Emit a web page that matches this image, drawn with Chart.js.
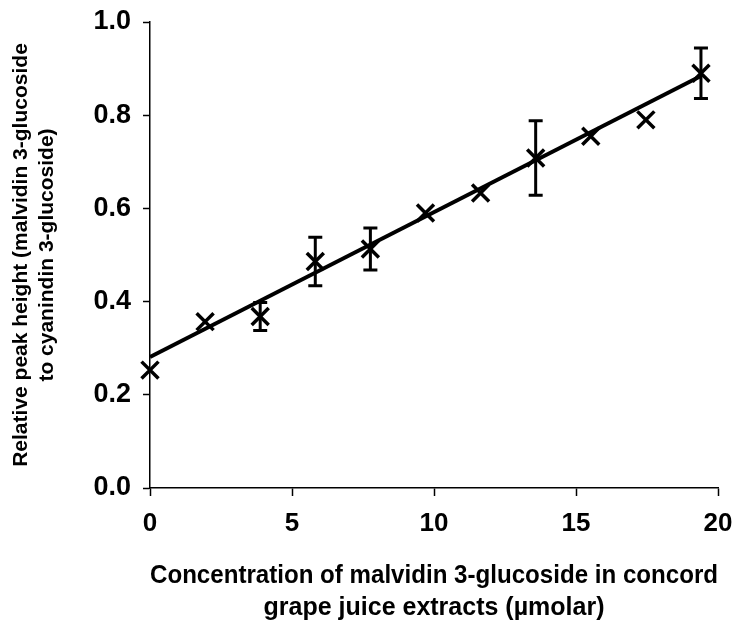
<!DOCTYPE html>
<html>
<head>
<meta charset="utf-8">
<script src="https://cdn.jsdelivr.net/npm/chart.js@4/dist/chart.umd.min.js"></script>
<style>
  html, body { margin: 0; padding: 0; background: #fff; }
  #wrap { width: 737px; height: 628px; }
</style>
</head>
<body>
<div id="wrap"><canvas id="c" width="737" height="628"></canvas></div>
<script>
// concentrations (umolar) and measured ratios
var concentrations = [0, 1.94, 3.88, 5.82, 7.76, 9.7, 11.64, 13.58, 15.52, 17.46, 19.4];
var peakRatios = [0.253, 0.357, 0.368, 0.486, 0.513, 0.59, 0.633, 0.708, 0.755, 0.79, 0.89];
var errors = [0, 0, 0.03, 0.052, 0.045, 0, 0, 0.08, 0, 0, 0.054];

// linear fit end points
var fitX = [0, 19.4];
var fitY = [0.281, 0.884];

var xTicks = [0, 5, 10, 15, 20];
var yTicks = [0.0, 0.2, 0.4, 0.6, 0.8, 1.0];

var points = [];
for (var i = 0; i < concentrations.length; i++) {
  points.push({x: concentrations[i], y: peakRatios[i]});
}
var fitLine = [];
for (var j = 0; j < fitX.length; j++) {
  fitLine.push({x: fitX[j], y: fitY[j]});
}

// draws the vertical error bars with caps
var errorBars = {
  id: 'errorBars',
  beforeDatasetsDraw: function(chart) {
    var ctx = chart.ctx;
    var xs = chart.scales.x, ys = chart.scales.y;
    ctx.save();
    ctx.strokeStyle = '#000';
    ctx.lineWidth = 3;
    for (var i = 0; i < concentrations.length; i++) {
      if (!errors[i]) continue;
      var px = xs.getPixelForValue(concentrations[i]);
      var top = ys.getPixelForValue(peakRatios[i] + errors[i]);
      var bot = ys.getPixelForValue(peakRatios[i] - errors[i]);
      ctx.beginPath();
      ctx.moveTo(px, top); ctx.lineTo(px, bot);
      ctx.moveTo(px - 7, top); ctx.lineTo(px + 7, top);
      ctx.moveTo(px - 7, bot); ctx.lineTo(px + 7, bot);
      ctx.stroke();
    }
    ctx.restore();
  }
};

var yTickFont = {family: 'Liberation Sans', size: 27, weight: 'bold'};
var xTickFont = {family: 'Liberation Sans', size: 26, weight: 'bold'};

var ctx = document.getElementById('c').getContext('2d');
var chart = new Chart(ctx, {
  type: 'scatter',
  data: {
    datasets: [{
      label: 'fit',
      type: 'line',
      data: fitLine,
      borderColor: '#000',
      borderWidth: 4,
      pointRadius: 0,
      fill: false,
      clip: false,
      order: 2
    }, {
      label: 'measured',
      data: points,
      pointStyle: 'crossRot',
      pointRadius: 12,
      pointBorderWidth: 3.5,
      pointBorderColor: '#000',
      pointBackgroundColor: '#000',
      clip: false,
      order: 1
    }]
  },
  options: {
    responsive: false,
    animation: false,
    layout: {padding: {top: 22, right: 19, left: 0, bottom: 0}},
    plugins: {legend: {display: false}, tooltip: {enabled: false}},
    scales: {
      x: {
        type: 'linear',
        min: 0, max: 20,
        afterBuildTicks: function(s) { s.ticks = xTicks.map(function(v) { return {value: v}; }); },
        afterFit: function(s) { s.height = 140; s.paddingLeft = 0; s.paddingRight = 0; },
        grid: {drawOnChartArea: false, drawTicks: true, tickLength: 8, tickColor: '#000', tickWidth: 1.5},
        border: {display: true, color: '#000', width: 1.5},
        ticks: {color: '#000', font: xTickFont, padding: 12, maxRotation: 0},
        title: {
          display: true,
          text: ['Concentration of malvidin 3-glucoside in concord', 'grape juice extracts (\u00b5molar)'],
          color: '#000',
          font: {family: 'Liberation Sans', size: 25, weight: 'bold', lineHeight: 1.28},
          padding: {top: 16, bottom: 4}
        }
      },
      y: {
        min: 0, max: 1,
        afterBuildTicks: function(s) { s.ticks = yTicks.map(function(v) { return {value: v}; }); },
        afterFit: function(s) { s.width = 150; s.paddingTop = 0; s.paddingBottom = 0; },
        grid: {drawOnChartArea: false, drawTicks: true, tickLength: 7, tickColor: '#000', tickWidth: 1.5},
        border: {display: true, color: '#000', width: 1.5},
        ticks: {color: '#000', font: yTickFont, padding: 12, callback: function(v) { return v.toFixed(1); }},
        title: {
          display: true,
          text: ['Relative peak height (malvidin 3-glucoside', 'to cyanindin 3-glucoside)'],
          color: '#000',
          font: {family: 'Liberation Sans', size: 21, weight: 'bold', lineHeight: 1.2},
          padding: {top: 9, bottom: 0}
        }
      }
    }
  },
  plugins: [errorBars]
});
</script>
</body>
</html>
